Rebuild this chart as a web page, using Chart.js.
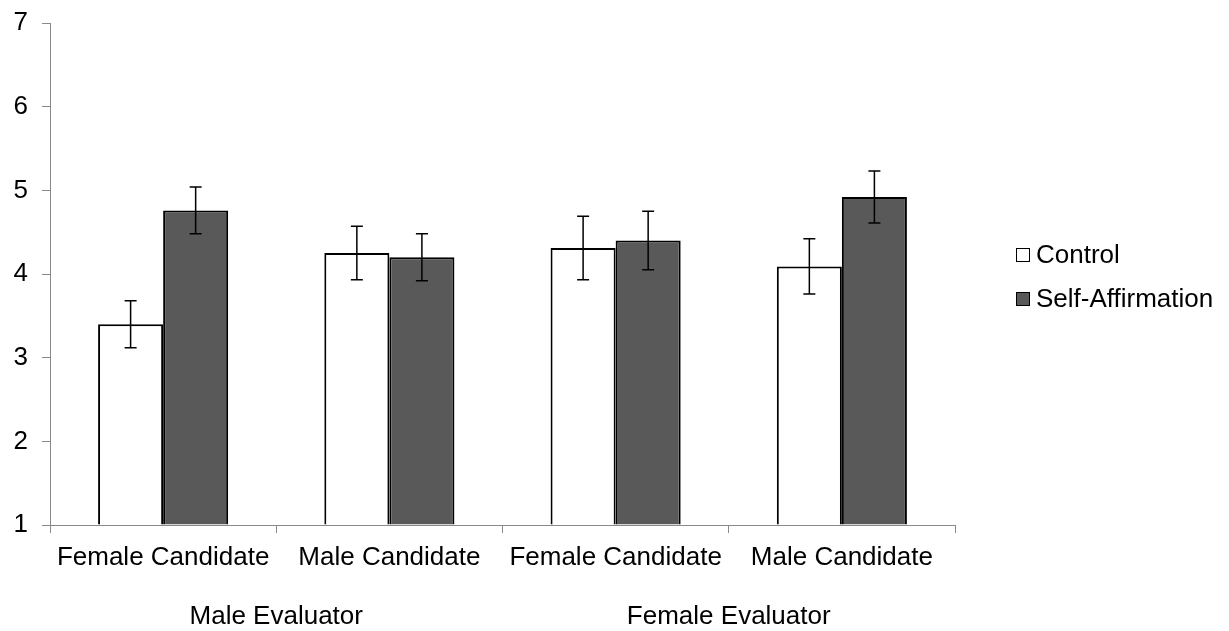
<!DOCTYPE html>
<html>
<head>
<meta charset="utf-8">
<script src="https://cdn.jsdelivr.net/npm/chart.js@4.4.1/dist/chart.umd.min.js"></script>
<style>
  html, body { margin: 0; padding: 0; background: #ffffff; }
  #wrap { width: 1229px; height: 631px; position: relative; }
</style>
</head>
<body>
<div id="wrap"><canvas id="chart" width="1229" height="631"></canvas></div>
<script>
const categories = ['Female Candidate', 'Male Candidate', 'Female Candidate', 'Male Candidate'];
const groupLabels = ['Male Evaluator', 'Female Evaluator'];
const seriesNames = ['Control', 'Self-Affirmation'];
const controlValues = [3.40, 4.25, 4.31, 4.09];
const affirmValues = [4.76, 4.20, 4.40, 4.92];
const controlErrors = [0.28, 0.32, 0.38, 0.33];
const affirmErrors = [0.28, 0.28, 0.35, 0.31];
const yMin = 1;
const yMax = 7;

const FONT = "'Liberation Sans', Arial, sans-serif";
const FONT_SIZE = 26;
const errorSets = [controlErrors, affirmErrors];

const errorBarPlugin = {
  id: 'errorBars',
  afterDatasetsDraw(chart) {
    const ctx = chart.ctx;
    const yScale = chart.scales.y;
    ctx.save();
    ctx.strokeStyle = '#000000';
    ctx.lineWidth = 1.5;
    chart.data.datasets.forEach((ds, di) => {
      const meta = chart.getDatasetMeta(di);
      meta.data.forEach((bar, i) => {
        const v = ds.data[i];
        const e = errorSets[di][i];
        const x = bar.x;
        const yTop = yScale.getPixelForValue(v + e);
        const yBot = yScale.getPixelForValue(v - e);
        const cap = 6;
        ctx.beginPath();
        ctx.moveTo(x, yTop); ctx.lineTo(x, yBot);
        ctx.moveTo(x - cap, yTop); ctx.lineTo(x + cap, yTop);
        ctx.moveTo(x - cap, yBot); ctx.lineTo(x + cap, yBot);
        ctx.stroke();
      });
    });
    ctx.restore();
  }
};

const extrasPlugin = {
  id: 'extras',
  afterDraw(chart) {
    const ctx = chart.ctx;
    const xScale = chart.scales.x;
    ctx.save();
    ctx.fillStyle = '#000000';
    ctx.font = FONT_SIZE + 'px ' + FONT;
    ctx.textAlign = 'center';
    ctx.textBaseline = 'middle';
    groupLabels.forEach((g, gi) => {
      const x = (xScale.getPixelForValue(gi * 2) + xScale.getPixelForValue(gi * 2 + 1)) / 2;
      ctx.fillText(g, x, 617);
    });
    // legend
    const fills = ['#ffffff', '#595959'];
    const rowY = [255, 299];
    ctx.textAlign = 'left';
    seriesNames.forEach((n, i) => {
      ctx.fillStyle = fills[i];
      ctx.fillRect(1016, rowY[i] - 7, 14, 14);
      ctx.strokeStyle = '#000000';
      ctx.lineWidth = 1;
      ctx.strokeRect(1016.5, rowY[i] - 6.5, 13, 13);
      ctx.fillStyle = '#000000';
      ctx.fillText(n, 1036, rowY[i] + 1);
    });
    ctx.restore();
  }
};

new Chart(document.getElementById('chart'), {
  type: 'bar',
  data: {
    labels: categories,
    datasets: [
      {
        label: seriesNames[0],
        data: controlValues,
        base: yMin,
        backgroundColor: '#ffffff',
        borderColor: '#000000',
        borderWidth: 2,
        categoryPercentage: 0.575,
        barPercentage: 1.0
      },
      {
        label: seriesNames[1],
        data: affirmValues,
        base: yMin,
        backgroundColor: '#595959',
        borderColor: '#000000',
        borderWidth: 2,
        categoryPercentage: 0.575,
        barPercentage: 1.0
      }
    ]
  },
  options: {
    responsive: false,
    animation: false,
    devicePixelRatio: 1,
    layout: { padding: { top: 23, right: 274, left: 0, bottom: 0 } },
    plugins: {
      legend: { display: false },
      tooltip: { enabled: false }
    },
    scales: {
      x: {
        offset: true,
        grid: {
          offset: true,
          drawOnChartArea: false,
          drawTicks: true,
          tickLength: 8,
          color: '#898989',
          lineWidth: 1
        },
        border: { color: '#898989', width: 1 },
        ticks: {
          color: '#000000',
          font: { family: FONT, size: FONT_SIZE },
          padding: 9,
          maxRotation: 0,
          autoSkip: false
        },
        afterFit(scale) {
          scale.height = 106;
          scale.paddingLeft = 0;
          scale.paddingRight = 0;
        }
      },
      y: {
        min: yMin,
        max: yMax,
        grid: {
          drawOnChartArea: false,
          drawTicks: true,
          tickLength: 8,
          color: '#898989',
          lineWidth: 1
        },
        border: { color: '#898989', width: 1 },
        ticks: {
          stepSize: 1,
          color: '#000000',
          font: { family: FONT, size: FONT_SIZE },
          padding: 14
        },
        afterFit(scale) {
          scale.width = 50;
          scale.paddingTop = 0;
          scale.paddingBottom = 0;
        }
      }
    }
  },
  plugins: [errorBarPlugin, extrasPlugin]
});
</script>
</body>
</html>
